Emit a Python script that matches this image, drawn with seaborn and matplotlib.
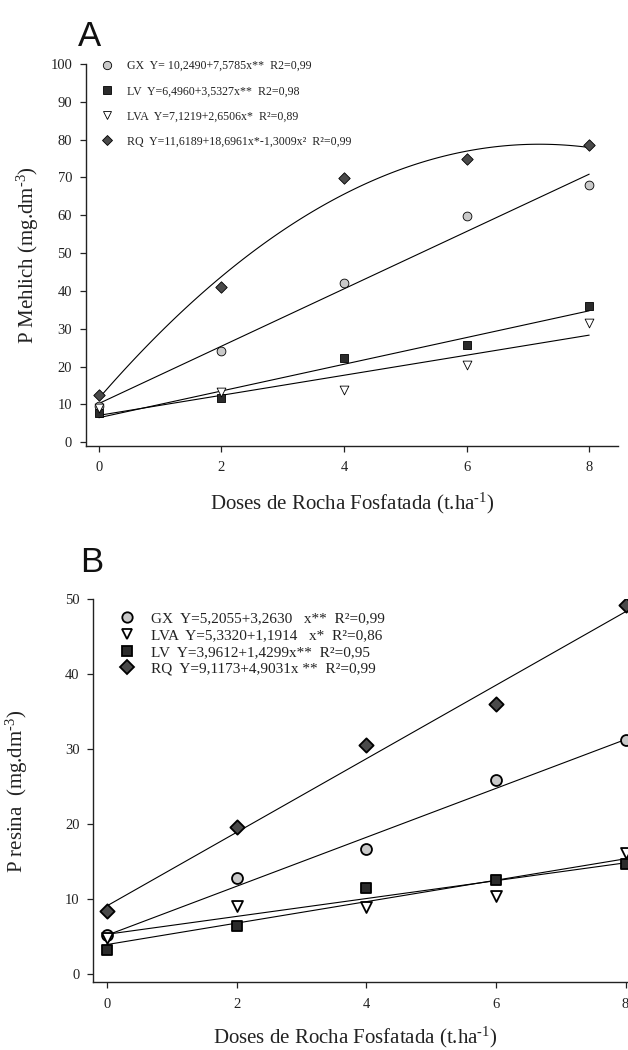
import numpy as np
import pandas as pd
import matplotlib
matplotlib.use("Agg")
import matplotlib.pyplot as plt
from matplotlib.lines import Line2D
import seaborn as sns

# ---------------- data ----------------
doses = [0, 2, 4, 6, 8]
solos_A = ["GX", "LV", "LVA", "RQ"]
solos_B = ["GX", "LVA", "LV", "RQ"]

A_gx = [9.6, 24.2, 42.2, 59.9, 67.9]
A_lv = [7.7, 11.8, 22.2, 25.7, 36.0]
A_lva = [9.1, 13.4, 13.8, 20.4, 31.6]
A_rq = [12.4, 41.1, 69.8, 74.8, 78.5]

B_gx = [5.2, 12.9, 16.7, 25.9, 31.3]
B_lva = [4.9, 9.1, 9.0, 10.4, 16.2]
B_lv = [3.3, 6.4, 11.5, 12.6, 14.7]
B_rq = [8.4, 19.6, 30.6, 36.1, 49.2]

# regression coefficients (b0, b1, b2) as printed in the legends
coef_A = {"GX": [10.2490, 7.5785, 0.0], "LV": [6.4960, 3.5327, 0.0],
          "LVA": [7.1219, 2.6506, 0.0], "RQ": [11.6189, 18.6961, -1.3009]}
coef_B = {"GX": [5.2055, 3.2630, 0.0], "LVA": [5.3320, 1.1914, 0.0],
          "LV": [3.9612, 1.4299, 0.0], "RQ": [9.1173, 4.9031, 0.0]}

labels_A = ["GX  Y= 10,2490+7,5785x**  R2=0,99",
            "LV  Y=6,4960+3,5327x**  R2=0,98",
            "LVA  Y=7,1219+2,6506x*  R\u00b2=0,89",
            "RQ  Y=11,6189+18,6961x*-1,3009x\u00b2  R\u00b2=0,99"]
labels_B = ["GX  Y=5,2055+3,2630   x**  R\u00b2=0,99",
            "LVA  Y=5,3320+1,1914   x*  R\u00b2=0,86",
            "LV  Y=3,9612+1,4299x**  R\u00b2=0,95",
            "RQ  Y=9,1173+4,9031x **  R\u00b2=0,99"]

xlabel = r"Doses de Rocha Fosfatada (t.ha$^{\text{-}1}$)"
ylabel_A = r"P Mehlich (mg.dm$^{\text{-}3}$)"
ylabel_B = r"P resina  (mg.dm$^{\text{-}3}$)"

# ---------------- style ----------------
sns.set_theme(style="ticks")
plt.rcParams["font.family"] = ["Liberation Serif", "DejaVu Serif"]
plt.rcParams["mathtext.fontset"] = "custom"
plt.rcParams["mathtext.rm"] = "Liberation Serif"
plt.rcParams["mathtext.it"] = "Liberation Serif:italic"
plt.rcParams["mathtext.default"] = "regular"

face = {"GX": "#c9c9c9", "LV": "#2b2b2b", "LVA": "#ffffff", "RQ": "#4a4a4a"}
mark = {"GX": "o", "LV": "s", "LVA": "v", "RQ": "D"}

dfA = pd.DataFrame({"dose": doses * 4,
                    "P": A_gx + A_lv + A_lva + A_rq,
                    "solo": sum([[s] * 5 for s in solos_A], [])})
dfB = pd.DataFrame({"dose": doses * 4,
                    "P": B_gx + B_lva + B_lv + B_rq,
                    "solo": sum([[s] * 5 for s in solos_B], [])})

xfit = np.linspace(0, 8, 120)


def fit_frame(coefs, order):
    rows = []
    for s in order:
        b0, b1, b2 = coefs[s]
        rows.append(pd.DataFrame({"dose": xfit, "P": b0 + b1 * xfit + b2 * xfit ** 2, "solo": s}))
    return pd.concat(rows)


fig = plt.figure(figsize=(6.28, 10.5), dpi=100)
W, H = 628.0, 1050.0
axA = fig.add_axes([86 / W, 1 - 446 / H, (618 - 86) / W, (446 - 64) / H])
axB = fig.add_axes([93.3 / W, 1 - 982.3 / H, (656 - 93.3) / W, (982.3 - 599.3) / H])


def draw(ax, df, coefs, order, labels, size, elw, ylim, yticks, ylabel,
         fs_leg, leg_anchor, labelspacing, handletextpad):
    sns.lineplot(data=fit_frame(coefs, order), x="dose", y="P", units="solo",
                 estimator=None, color="black", lw=0.8, ax=ax, legend=False)
    for s in order:
        sub = df[df.solo == s]
        sns.scatterplot(data=sub, x="dose", y="P", marker=mark[s], color=face[s],
                        edgecolor="black", linewidth=elw, s=size * (0.85 if s == "RQ" else 1.0),
                        ax=ax, legend=False, zorder=3)
    ax.set_xlim(-0.21, 8.47)
    ax.set_ylim(*ylim)
    ax.set_xticks(doses)
    ax.set_yticks(yticks)
    sns.despine(ax=ax)
    for sp in ("left", "bottom"):
        ax.spines[sp].set_linewidth(1.0)
        ax.spines[sp].set_color("#222222")
    ax.tick_params(axis="both", length=4.5, width=0.9, color="#222222",
                   labelsize=10.5, labelcolor="#222222")
    ax.tick_params(axis="x", pad=6.5)
    ax.tick_params(axis="y", pad=5.5)
    ax.set_xlabel(xlabel, fontsize=15, color="#222222")
    ax.set_ylabel(ylabel, fontsize=15, color="#222222")
    ax.yaxis.label.set_va("center")
    ax.xaxis.label.set_va("center")
    handles = [Line2D([], [], linestyle="none", marker=mark[s],
                      markersize=np.sqrt(size) * (0.88 if s == "RQ" else 0.95),
                      markerfacecolor=face[s], markeredgecolor="black",
                      markeredgewidth=elw) for s in order]
    ax.legend(handles, labels, loc="upper left", bbox_to_anchor=leg_anchor,
              frameon=False, fontsize=fs_leg, handlelength=1.0,
              handletextpad=handletextpad, labelspacing=labelspacing,
              borderpad=0, borderaxespad=0,
              labelcolor="#222222")


draw(axA, dfA, coef_A, solos_A, labels_A, 40, 0.6, (-0.98, 100),
     range(0, 101, 10), ylabel_A, 8.6, (0.028, 1.01), 1.1, 1.2)
axA.yaxis.set_label_coords(-0.11, 0.5)
axA.xaxis.label.set_position((0.5, 0))
axA.xaxis.set_label_coords(0.5, -0.149)

draw(axB, dfB, coef_B, solos_B, labels_B, 62, 1.3, (-1.07, 50),
     range(0, 51, 10), ylabel_B, 11, (0.047, 0.9676), 0.2, 1.05)
axB.yaxis.set_label_coords(-0.135, 0.5)
axB.xaxis.set_label_coords(0.465, -0.145)

fig.text(90 / W, 1 - 46 / H, "A", fontsize=25, family="Liberation Sans",
         ha="center", va="baseline", color="#111111")
fig.text(92 / W, 1 - 572 / H, "B", fontsize=25, family="Liberation Sans",
         ha="center", va="baseline", color="#111111")

fig.savefig("out.png", dpi=100)
